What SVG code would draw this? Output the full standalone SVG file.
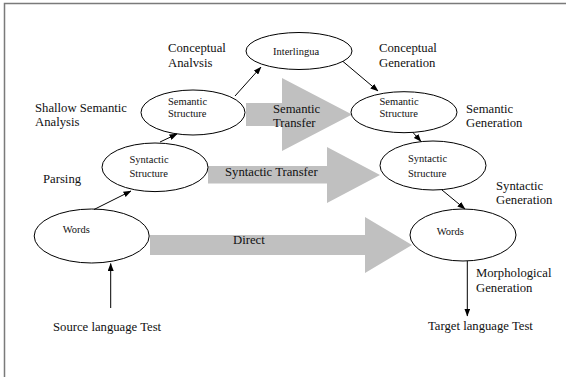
<svg xmlns="http://www.w3.org/2000/svg" width="566" height="377" viewBox="0 0 566 377">
<defs>
<marker id="ah" markerWidth="8" markerHeight="6" refX="7.5" refY="3" orient="auto" markerUnits="userSpaceOnUse">
<path d="M0,0 L8,3 L0,6 Z" fill="#000"/>
</marker>
<style>
text{font-family:'Liberation Serif','Tinos','DejaVu Serif','Noto Serif',serif;fill:#111}
.lbl{font-size:12.7px}
.nt{font-size:10.5px}
.node ellipse{fill:#fff;stroke:#000;stroke-width:1}
.blk{fill:#c0c0c0;stroke:none}
.con line{stroke:#000;stroke-width:1;marker-end:url(#ah)}
</style>
</defs>
<rect width="566" height="377" fill="#fff"/>
<path d="M4.5 377 V3.5 H566" fill="none" stroke="#7a7a7a" stroke-width="1.5"/>

<g id="transfers">
<polygon class="blk" points="246,103 282,103 282,78 352,114.5 282,151 282,126 246,126"/>
<polygon class="blk" points="208,166 327,166 327,147 380,175 327,203 327,183.5 208,183.5"/>
<polygon class="blk" points="150,235 365,235 365,217 412,245 365,273 365,255 150,255"/>
<text class="lbl" x="273" y="113" font-family="Liberation Serif, DejaVu Serif, serif">Semantic</text>
<text class="lbl" x="273" y="126.7" font-family="Liberation Serif, DejaVu Serif, serif">Transfer</text>
<text class="lbl" x="225" y="176" font-family="Liberation Serif, DejaVu Serif, serif">Syntactic Transfer</text>
<text class="lbl" x="233" y="244" font-family="Liberation Serif, DejaVu Serif, serif">Direct</text>
</g>

<g id="interlingua" class="node">
<ellipse cx="299" cy="51" rx="53" ry="18.5"/>
<text class="nt" x="273" y="55">Interlingua</text>
</g>
<g id="sem-left" class="node">
<ellipse cx="193" cy="112.5" rx="52" ry="22.5"/>
<text class="nt" x="168" y="105">Semantic</text>
<text class="nt" x="168" y="117">Structure</text>
</g>
<g id="sem-right" class="node">
<ellipse cx="404" cy="112.2" rx="53" ry="20.5"/>
<text class="nt" x="379.5" y="105">Semantic</text>
<text class="nt" x="379.5" y="117">Structure</text>
</g>
<g id="syn-left" class="node">
<ellipse cx="155" cy="167.3" rx="53" ry="24.3"/>
<text class="nt" x="129.5" y="162.5">Syntactic</text>
<text class="nt" x="129.5" y="176.5">Structure</text>
</g>
<g id="syn-right" class="node">
<ellipse cx="433" cy="165.5" rx="53" ry="24.5"/>
<text class="nt" x="408" y="161.5">Syntactic</text>
<text class="nt" x="408" y="176.5">Structure</text>
</g>
<g id="words-left" class="node">
<ellipse cx="91.7" cy="236" rx="57.5" ry="27"/>
<text class="nt" x="62.7" y="233">Words</text>
</g>
<g id="words-right" class="node">
<ellipse cx="463" cy="235" rx="53" ry="26"/>
<text class="nt" x="436.7" y="235">Words</text>
</g>

<g id="connectors" class="con">
<line x1="110.7" y1="308" x2="110.7" y2="263.5"/>
<line x1="94" y1="209.5" x2="131" y2="191"/>
<line x1="160" y1="142" x2="177" y2="134"/>
<line x1="235" y1="96" x2="261" y2="67"/>
<line x1="343" y1="61.5" x2="378" y2="91"/>
<line x1="413" y1="132.5" x2="421" y2="141.5"/>
<line x1="442" y1="190" x2="465" y2="209"/>
<line x1="467.3" y1="261" x2="467.3" y2="316"/>
</g>

<g id="labels">
<text class="lbl" x="168" y="52">Conceptual</text>
<text class="lbl" x="168" y="66.5">Analvsis</text>
<text class="lbl" x="379" y="52">Conceptual</text>
<text class="lbl" x="379" y="66.5">Generation</text>
<text class="lbl" x="35" y="112">Shallow Semantic</text>
<text class="lbl" x="35" y="125.5">Analysis</text>
<text class="lbl" x="466" y="113">Semantic</text>
<text class="lbl" x="466" y="126.5">Generation</text>
<text class="lbl" x="43" y="183">Parsing</text>
<text class="lbl" x="496" y="190">Syntactic</text>
<text class="lbl" x="496" y="204">Generation</text>
<text class="lbl" x="476" y="277">Morphological</text>
<text class="lbl" x="476" y="291.5">Generation</text>
<text class="lbl" x="53" y="331">Source language Test</text>
<text class="lbl" x="428" y="330">Target language Test</text>
</g>
</svg>
